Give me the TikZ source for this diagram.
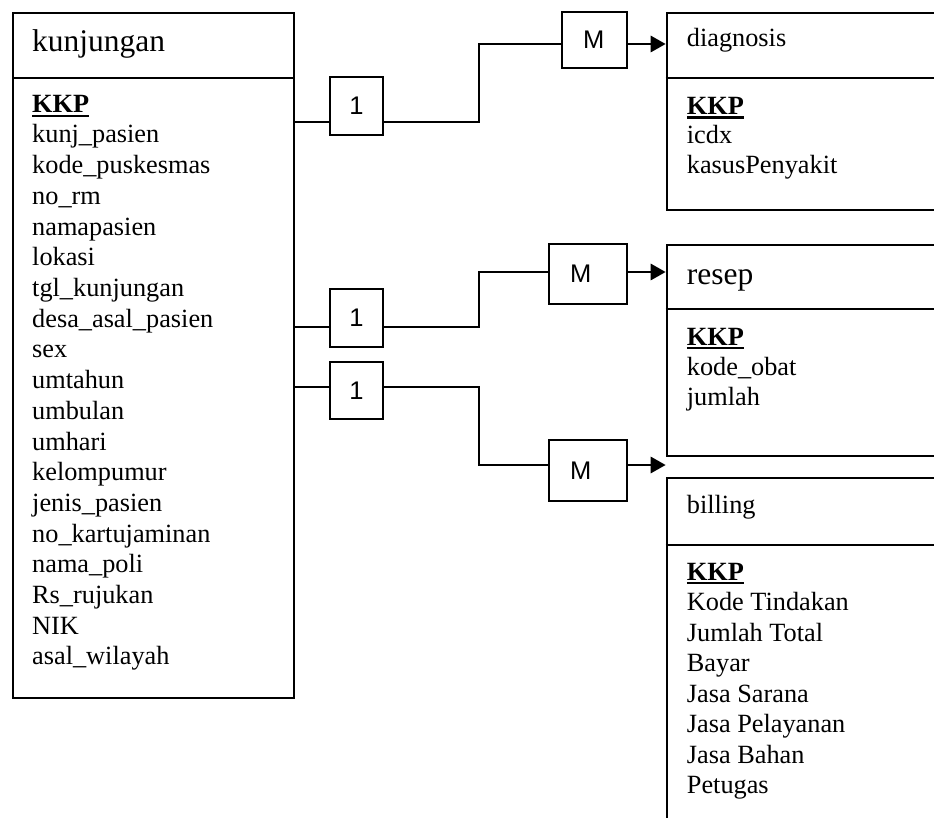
\documentclass[tikz,border=0pt]{standalone}
\usepackage{fontspec}
\setmainfont{Liberation Serif}
\newfontfamily\cardfont{Liberation Sans}
\usetikzlibrary{arrows.meta}

% bold key attribute with a heavy underline
\newsavebox\pkbox
\newcommand\pkfield[1]{\sbox\pkbox{\bfseries #1}\rlap{\rule[-4.2pt]{\wd\pkbox}{2.6pt}}\usebox\pkbox}

\begin{document}
\begin{tikzpicture}[x=1pt,y=-1pt,
  frame/.style={draw, line width=2.2pt, inner sep=0pt, anchor=north west},
  divider/.style={line width=2.2pt},
  field/.style={anchor=base west, inner sep=0pt, font=\fontsize{26.3}{30}\selectfont},
  bighead/.style={anchor=base west, inner sep=0pt, font=\fontsize{31.5}{36}\selectfont},
  link/.style={line width=2.9pt},
  linkarrow/.style={link, -{Triangle[length=15pt,width=16pt]}},
  card/.style={draw, fill=white, line width=1.8pt, inner sep=0pt,
    font=\cardfont\fontsize{25.5}{30}\selectfont},
  manycard/.style={card, text width=#1-42pt, align=left, minimum width=#1},
]
\useasboundingbox (0,0) rectangle (934,818);
\clip (0,0) rectangle (934,818);

% ---- entity tables ----
\node[frame, minimum width=281pt, minimum height=685pt] (kunj) at (12,12) {};
\draw[divider] (kunj.west |- 0,78) -- (kunj.east |- 0,78);

\node[frame, minimum width=300pt, minimum height=197pt] (diag) at (665.7,12) {};
\draw[divider] (diag.west |- 0,78) -- (diag.east |- 0,78);

\node[frame, minimum width=300pt, minimum height=211pt] (resep) at (665.7,244) {};
\draw[divider] (resep.west |- 0,309) -- (resep.east |- 0,309);

\node[frame, minimum width=300pt, minimum height=400pt] (bill) at (665.7,477) {};
\draw[divider] (bill.west |- 0,545) -- (bill.east |- 0,545);

% ---- table titles ----
\node[bighead] (kunjtitle) at (32,52) {kunjungan};
\node[field] (diagtitle) at (686.7,47) {diagnosis};
\node[bighead] (reseptitle) at (686.7,284) {resep};
\node[field] (billtitle) at (686.7,513) {billing};

% ---- attributes ----
\node[field] (kkey) at (32,113) {\pkfield{KKP}};
\foreach \t [count=\i] in {kunj\_pasien, kode\_puskesmas, no\_rm, namapasien,
  lokasi, tgl\_kunjungan, desa\_asal\_pasien, sex, umtahun, umbulan, umhari,
  kelompumur, jenis\_pasien, no\_kartujaminan, nama\_poli, Rs\_rujukan, NIK,
  asal\_wilayah}
  \node[field] (kf\i) at (32,{143+30.7*(\i-1)}) {\t};

\node[field] (dkey) at (686.7,114.5) {\pkfield{KKP}};
\node[field] (df1) at (686.7,144) {icdx};
\node[field] (df2) at (686.7,174) {kasusPenyakit};

\node[field] (rkey) at (686.7,345) {\pkfield{KKP}};
\node[field] (rf1) at (686.7,375) {kode\_obat};
\node[field] (rf2) at (686.7,405) {jumlah};

\node[field] (bkey) at (686.7,580) {\pkfield{KKP}};
\foreach \t [count=\i] in {Kode Tindakan, Jumlah Total, Bayar, Jasa Sarana,
  Jasa Pelayanan, Jasa Bahan, Petugas}
  \node[field] (bf\i) at (686.7,{610.5+30.5*(\i-1)}) {\t};

% ---- relationship connectors ----
\coordinate (s1) at (kunj.east |- 0,122);
\coordinate (s2) at (kunj.east |- 0,327);
\coordinate (s3) at (kunj.east |- 0,387);
\coordinate (e1) at (diag.west |- 0,44);
\coordinate (e2) at (resep.west |- 0,272);
\coordinate (e3) at (bill.west |- 0,465);

\draw[linkarrow] (s1) -- (479,122) |- (e1);
\draw[linkarrow] (s2) -- (479,327) |- (e2);
\draw[linkarrow] (s3) -- (479,387) |- (e3);

% ---- cardinality labels ----
\node[card, minimum width=53pt, minimum height=58pt] (one1) at (356.5,106) {1};
\node[card, minimum width=53pt, minimum height=58pt] (one2) at (356.5,318) {1};
\node[card, minimum width=53pt, minimum height=57pt] (one3) at (356.5,390.5) {1};
\node[manycard=65pt, minimum height=56pt] (many1) at (594.5,40) {M};
\node[manycard=78pt, minimum height=60pt] (many2) at (588,274) {M};
\node[manycard=78pt, minimum height=61pt] (many3) at (588,470.5) {M};
\end{tikzpicture}
\end{document}
